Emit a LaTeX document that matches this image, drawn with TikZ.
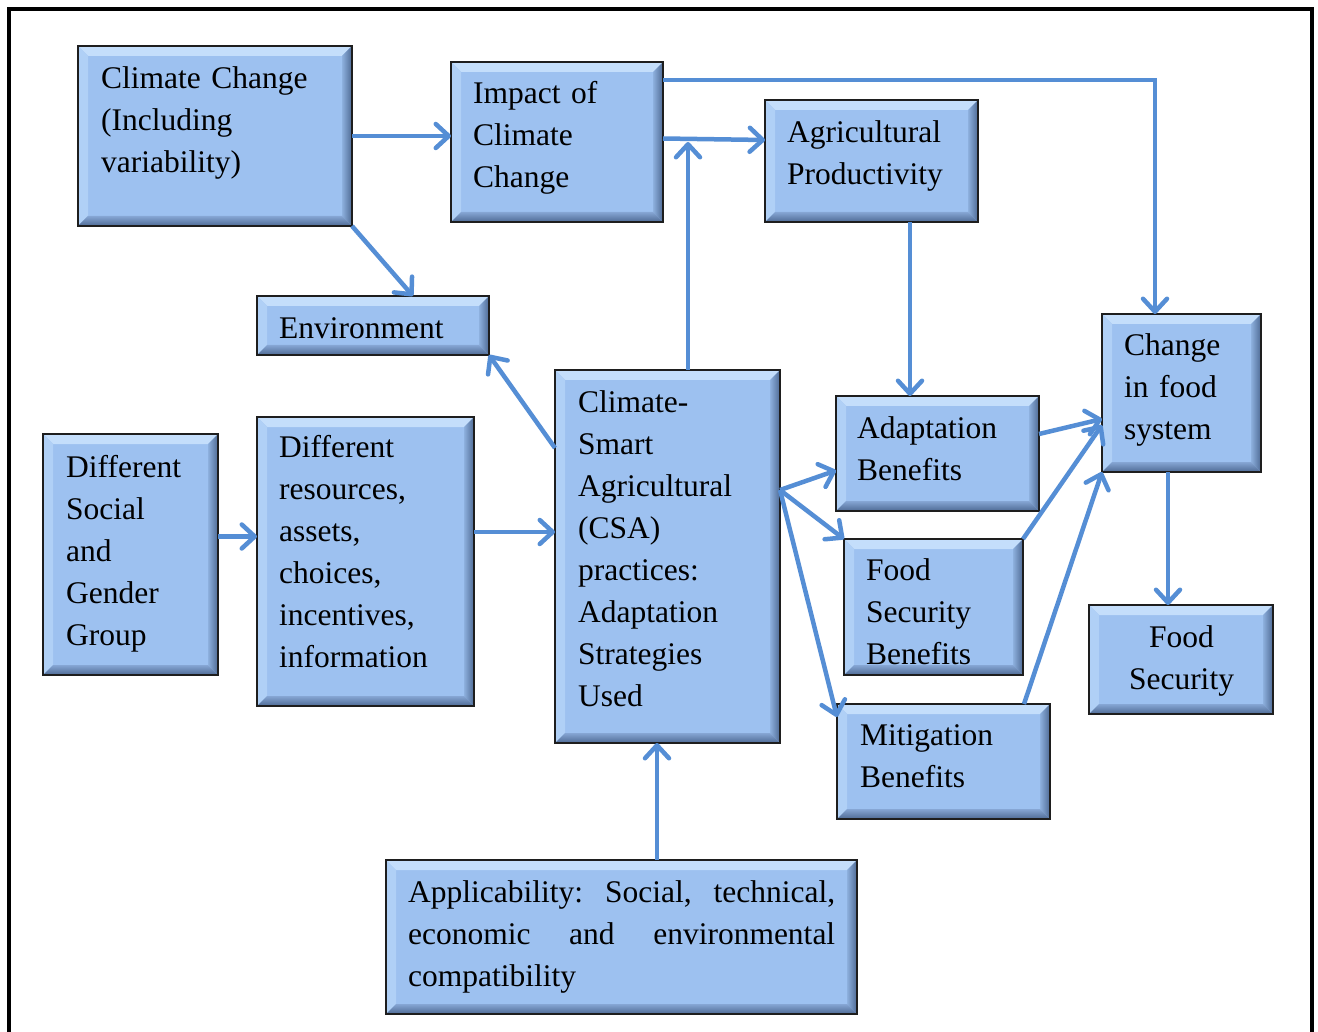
\documentclass[tikz,border=0pt]{standalone}
\usepackage{fontspec}
\setmainfont{Liberation Serif}
\usetikzlibrary{arrows.meta,calc}

\definecolor{boxfill}{HTML}{9DC1F0}
\definecolor{bevtop}{HTML}{C4DEFB}
\definecolor{bevleft}{HTML}{B0D0F6}
\definecolor{bevdark}{HTML}{4E6A94}
\definecolor{bevmid}{HTML}{86A6D4}
\definecolor{linkblue}{HTML}{558ED5}
\definecolor{rim}{HTML}{1E1E1E}

\tikzset{
  cbox/.style={draw=rim, line width=2.6pt, fill=boxfill, inner sep=0pt, outer sep=0pt},
  rimline/.style={draw=rim, line width=2.6pt},
  txt/.style={font=\fontsize{31.5}{42}\selectfont, inner sep=0pt, anchor=north west,
              text width=#1, align=left, execute at begin node=\strut},
  txt/.default=300pt,
  link/.style={draw=linkblue, line width=4.5pt,
               -{Straight Barb[length=13pt,width=24pt,round]}},
}

% bevelled box: name, left, top, right, bottom (y grows downwards)
\newcommand\bevbox[5]{%
  \pgfmathsetmacro\bbw{#4-#2}%
  \pgfmathsetmacro\bbh{#5-#3}%
  \node[cbox, minimum width=\bbw pt, minimum height=\bbh pt] (#1) at ({(#2+#4)/2},{(#3+#5)/2}) {};
  \fill[bevtop] (#1.north west) -- (#1.north east) -- ([shift={(-10pt,-10pt)}]#1.north east)
    -- ([shift={(10pt,-10pt)}]#1.north west) -- cycle;
  \fill[bevleft] (#1.north west) -- ([shift={(10pt,-10pt)}]#1.north west)
    -- ([shift={(10pt,10pt)}]#1.south west) -- (#1.south west) -- cycle;
  \shade[left color=boxfill!80!bevdark, right color=bevdark] (#1.north east) -- (#1.south east)
    -- ([shift={(-10pt,10pt)}]#1.south east) -- ([shift={(-10pt,-10pt)}]#1.north east) -- cycle;
  \shade[top color=bevmid, bottom color=bevdark] (#1.south west) -- ([shift={(10pt,10pt)}]#1.south west)
    -- ([shift={(-10pt,10pt)}]#1.south east) -- (#1.south east) -- cycle;
  \draw[rimline] (#1.north west) rectangle (#1.south east);
}

\begin{document}
\begin{tikzpicture}[x=1pt,y=-1pt]
\useasboundingbox (0,0) rectangle (1318,1032);
\fill[white] (0,0) rectangle (1318,1032);

% outer frame
\draw[line width=4pt] (9,1050) -- (9,9) -- (1312,9) -- (1312,1050);

% boxes
\bevbox{cc}{78}{46}{352}{226}
\bevbox{imp}{451}{62}{663}{222}
\bevbox{agp}{765}{100}{978}{222}
\bevbox{env}{257}{296}{489}{355}
\bevbox{csa}{555}{370}{780}{743}
\bevbox{dsg}{43}{434}{218}{675}
\bevbox{drs}{257}{417}{474}{706}
\bevbox{ada}{836}{396}{1039}{511}
\bevbox{fsb}{844}{539}{1023}{675}
\bevbox{mit}{837}{704}{1050}{819}
\bevbox{cfs}{1102}{314}{1261}{472}
\bevbox{fs}{1089}{605}{1273}{714}
\bevbox{app}{386}{860}{857}{1014}

% texts
\node[txt] (cc-t) at (101,58.6) {Climate Change\\(Including\\variability)};
\node[txt] (imp-t) at (473,73.6) {Impact of\\Climate\\Change};
\node[txt] (agp-t) at (787,112.6) {Agricultural\\Productivity};
\node[txt] (env-t) at (279,308.6) {Environment};
\node[txt] (csa-t) at (578,382.6) {Climate-\\Smart\\Agricultural\\(CSA)\\practices:\\Adaptation\\Strategies\\Used};
\node[txt] (dsg-t) at (66,447.6) {Different\\Social\\and\\Gender\\Group};
\node[txt] (drs-t) at (279,427.6) {Different\\resources,\\assets,\\choices,\\incentives,\\information};
\node[txt] (ada-t) at (857,408.6) {Adaptation\\Benefits};
\node[txt] (fsb-t) at (866,550.6) {Food\\Security\\Benefits};
\node[txt] (mit-t) at (860,715.6) {Mitigation\\Benefits};
\node[txt] (cfs-t) at (1124,325.6) {Change\\in food\\system};
\node[txt=184pt, anchor=north, align=center] (fs-t) at (1181.5,617.6) {Food\\Security};
\node[txt=427pt] (app-t) at (408,872.6)
  {\makebox[427pt][l]{Applicability:\hfill Social,\hfill technical,}\\
   \makebox[427pt][l]{economic\hfill and\hfill environmental}\\
   compatibility};

% connectors
\draw[link] (cc.east) -- (cc.east -| imp.west);
\draw[link] (cc.south east) -- ([xshift=40pt]env.north);
\draw[link] ([yshift=3.5pt]imp.east) -- ([yshift=21pt]agp.west);
\draw[link] ([yshift=-18pt]imp.north east) -| ([xshift=-26.5pt]cfs.north);

\coordinate (csatop) at ([xshift=20.5pt]csa.north);
\coordinate (jn) at (csatop |- imp.east);
\draw[link] (csatop) -- (jn);

\draw[link] ([yshift=-78pt]csa.north west) -- (env.south east);

\coordinate (agpdown) at ([xshift=38.5pt]agp.south);
\draw[link] (agpdown) -- (agpdown |- ada.north);

\coordinate (dsgout) at ([yshift=18pt]dsg.east);
\draw[link] (dsgout) -- (dsgout -| drs.west);
\coordinate (drsout) at ([yshift=29.5pt]drs.east);
\draw[link] (drsout) -- (drsout -| csa.west);

\coordinate (fan) at ([yshift=66.5pt]csa.east);
\draw[link] (fan) -- ([yshift=-17pt]ada.west);
\draw[link] (fan) -- (fsb.north west);
\draw[link] (fan) -- ([yshift=-13pt]mit.north west);

\draw[link] ([yshift=19.5pt]ada.east) -- ([yshift=-26pt]cfs.west);
\draw[link] (fsb.north east) -- ([yshift=-32pt]cfs.west);
\draw[link] ([xshift=-26pt]mit.north east) -- (cfs.south west);

\coordinate (cfsdown) at ([xshift=-13.5pt]cfs.south);
\draw[link] (cfsdown) -- (cfsdown |- fs.north);

\coordinate (appup) at ([xshift=35.5pt]app.north);
\draw[link] (appup) -- (appup |- csa.south);
\end{tikzpicture}
\end{document}
